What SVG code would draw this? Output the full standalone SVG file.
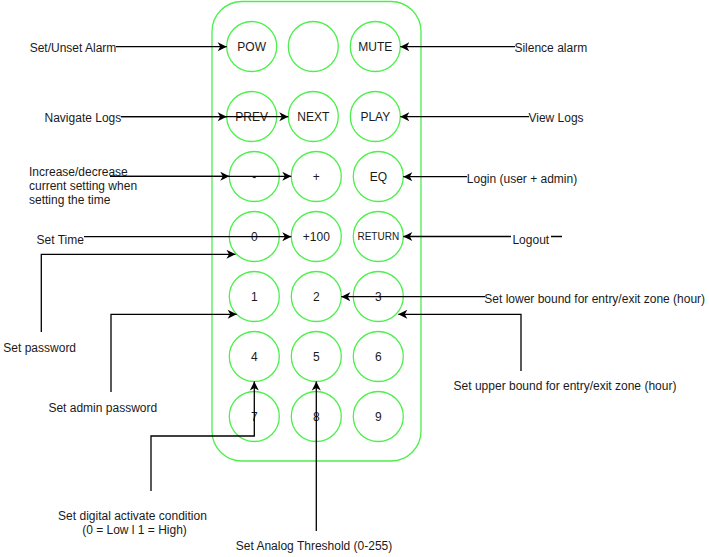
<svg xmlns="http://www.w3.org/2000/svg" width="709" height="557" viewBox="0 0 709 557">
<style>
.btn{fill:#fff;stroke:#4cf04c;stroke-width:1.3}
.t{font-family:"Liberation Sans",Arial,sans-serif;font-size:12px;fill:#1a1a1a}
.c{text-anchor:middle}
.e{fill:none;stroke:#000;stroke-width:1.3}
</style>
<defs>
<marker id="a" markerUnits="userSpaceOnUse" markerWidth="12" markerHeight="12" refX="10" refY="6" orient="auto">
<path d="M1,1.5 L10,6 L1,10.5 L3.5,6 Z" fill="#000"/>
</marker>
</defs>
<rect x="212" y="1.5" width="209" height="459.5" rx="30" ry="30" fill="#fff" stroke="#4cf04c" stroke-width="1.3"/>
<g id="btn-pow"><circle class="btn" cx="251.7" cy="46.5" r="25"/><text class="t c" x="251.7" y="50.5">POW</text></g>
<g id="btn-blank"><circle class="btn" cx="313.3" cy="46.5" r="25"/></g>
<g id="btn-mute"><circle class="btn" cx="375.3" cy="46.5" r="25"/><text class="t c" x="375.3" y="50.5">MUTE</text></g>
<g id="btn-prev"><circle class="btn" cx="251.7" cy="116.5" r="25"/><text class="t c" x="251.7" y="120.5">PREV</text></g>
<g id="btn-next"><circle class="btn" cx="313.3" cy="116.5" r="25"/><text class="t c" x="313.3" y="120.5">NEXT</text></g>
<g id="btn-play"><circle class="btn" cx="375.3" cy="116.5" r="25"/><text class="t c" x="375.3" y="120.5">PLAY</text></g>
<g id="btn-minus"><circle class="btn" cx="254.3" cy="176.5" r="25"/><text class="t c" x="254.3" y="180.5">-</text></g>
<g id="btn-plus"><circle class="btn" cx="316.3" cy="176.5" r="25"/><text class="t c" x="316.3" y="180.5">+</text></g>
<g id="btn-eq"><circle class="btn" cx="378.3" cy="176.5" r="25"/><text class="t c" x="378.3" y="180.5">EQ</text></g>
<g id="btn-0"><circle class="btn" cx="254.3" cy="236.5" r="25"/><text class="t c" x="254.3" y="240.5">0</text></g>
<g id="btn-100"><circle class="btn" cx="316.3" cy="236.5" r="25"/><text class="t c" x="316.3" y="240.5">+100</text></g>
<g id="btn-return"><circle class="btn" cx="378.3" cy="236.5" r="25"/><text class="t c" x="378.3" y="240" style="font-size:10px">RETURN</text></g>
<g id="btn-1"><circle class="btn" cx="254.3" cy="296.5" r="25"/><text class="t c" x="254.3" y="300.5">1</text></g>
<g id="btn-2"><circle class="btn" cx="316.3" cy="296.5" r="25"/><text class="t c" x="316.3" y="300.5">2</text></g>
<g id="btn-3"><circle class="btn" cx="378.3" cy="296.5" r="25"/><text class="t c" x="378.3" y="300.5">3</text></g>
<g id="btn-4"><circle class="btn" cx="254.3" cy="356.5" r="25"/><text class="t c" x="254.3" y="360.5">4</text></g>
<g id="btn-5"><circle class="btn" cx="316.3" cy="356.5" r="25"/><text class="t c" x="316.3" y="360.5">5</text></g>
<g id="btn-6"><circle class="btn" cx="378.3" cy="356.5" r="25"/><text class="t c" x="378.3" y="360.5">6</text></g>
<g id="btn-7"><circle class="btn" cx="254.3" cy="416.5" r="25"/><text class="t c" x="254.3" y="420.5">7</text></g>
<g id="btn-8"><circle class="btn" cx="316.3" cy="416.5" r="25"/><text class="t c" x="316.3" y="420.5">8</text></g>
<g id="btn-9"><circle class="btn" cx="378.3" cy="416.5" r="25"/><text class="t c" x="378.3" y="420.5">9</text></g>
<g id="connectors">
<path class="e" d="M116,46.7 H226.7" marker-end="url(#a)"/>
<path class="e" d="M515,46.7 H400.3" marker-end="url(#a)"/>
<path class="e" d="M121,116.7 H226.7" marker-end="url(#a)"/>
<path class="e" d="M121,116.7 H288.3" marker-end="url(#a)"/>
<path class="e" d="M529,116.7 H400.3" marker-end="url(#a)"/>
<path class="e" d="M110,176.3 H229.3" marker-end="url(#a)"/>
<path class="e" d="M110,176.3 H291.3" marker-end="url(#a)"/>
<path class="e" d="M467,176.7 H403.3" marker-end="url(#a)"/>
<path class="e" d="M84,236.7 H291.3" marker-end="url(#a)"/>
<path class="e" d="M562,236.5 H403.3" marker-end="url(#a)"/>
<path class="e" d="M41.3,332 V254.3 H235.5" marker-end="url(#a)"/>
<path class="e" d="M111,392 V314.3 H236.7" marker-end="url(#a)"/>
<path class="e" d="M485,296.7 H341.3" marker-end="url(#a)"/>
<path class="e" d="M521,371 V314.3 H398.3" marker-end="url(#a)"/>
<path class="e" d="M151,491 V436 H254.3 V381.5" marker-end="url(#a)"/>
<path class="e" d="M316.3,531 V381.5" marker-end="url(#a)"/>
</g>
<g id="labels">
<text class="t c" x="73" y="51.5">Set/Unset Alarm</text>
<text class="t c" x="550.8" y="51.5">Silence alarm</text>
<text class="t c" x="82.9" y="122">Navigate Logs</text>
<text class="t c" x="556" y="122">View Logs</text>
<text class="t" x="29" y="175.7">Increase/decrease</text>
<text class="t" x="29" y="190">current setting when</text>
<text class="t" x="29" y="204.3">setting the time</text>
<text class="t c" x="522" y="183">Login (user + admin)</text>
<text class="t c" x="60.3" y="244.3">Set Time</text>
<rect x="511" y="229" width="40" height="15" fill="#fff"/>
<text class="t c" x="530.8" y="243.5">Logout</text>
<text class="t c" x="39.7" y="351.5">Set password</text>
<text class="t c" x="594.7" y="303">Set lower bound for entry/exit zone (hour)</text>
<text class="t c" x="565" y="389.7">Set upper bound for entry/exit zone (hour)</text>
<text class="t c" x="102.8" y="411.5">Set admin password</text>
<text class="t c" x="132.5" y="520">Set digital activate condition</text>
<text class="t c" x="134.5" y="534">(0 = Low l 1 = High)</text>
<text class="t c" x="314" y="549.7">Set Analog Threshold (0-255)</text>
</g>
</svg>
